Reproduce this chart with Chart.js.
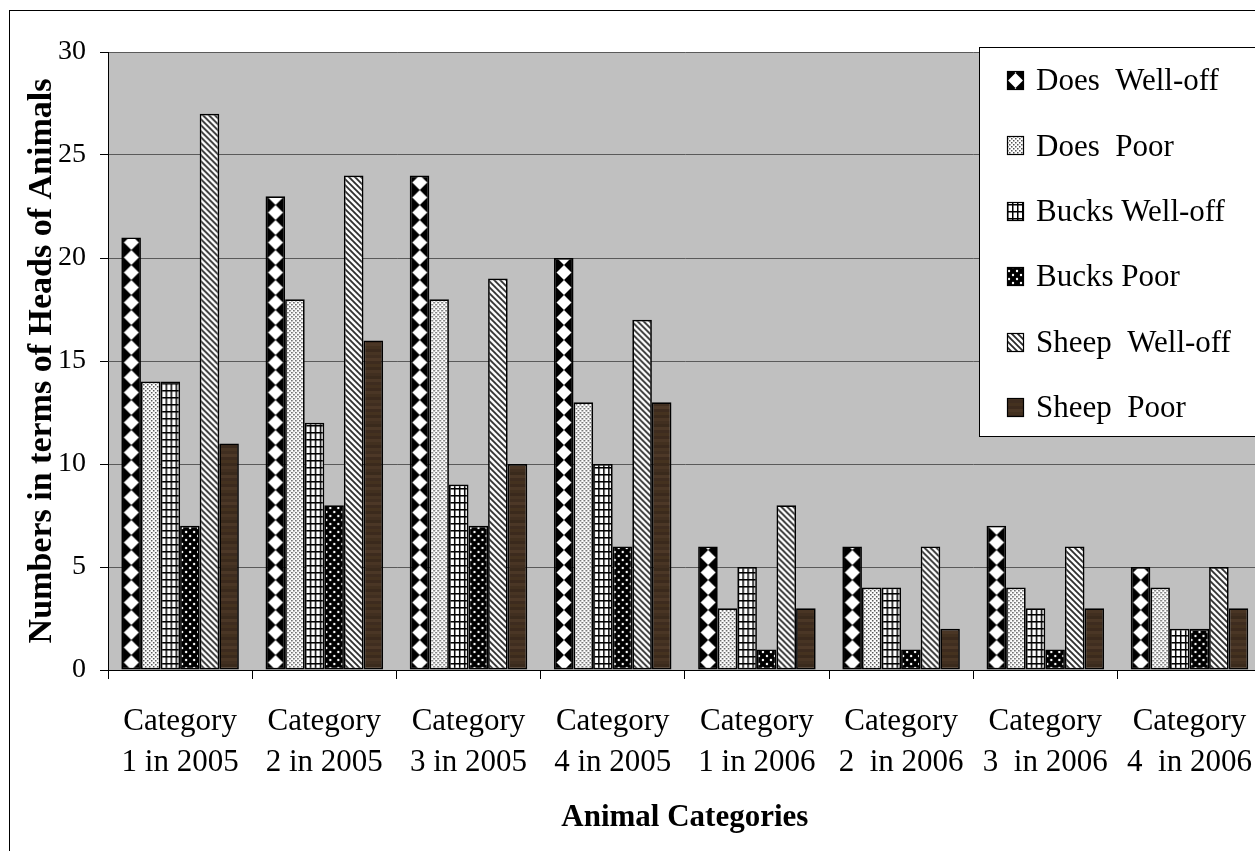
<!DOCTYPE html>
<html>
<head>
<meta charset="utf-8">
<script src="https://cdn.jsdelivr.net/npm/chart.js@4.4.1/dist/chart.umd.min.js"></script>
<style>
  html, body { margin: 0; padding: 0; background: #fff; overflow: hidden; width: 1255px; height: 851px; }
  #wrap { position: absolute; left: 0; top: 0; width: 1290px; height: 851px; }
</style>
</head>
<body>
<div id="wrap"><canvas id="chart" width="1290" height="851"></canvas></div>
<script>
// ---- data ----
const categories = [
  ['Category', '1 in 2005'], ['Category', '2 in 2005'], ['Category', '3 in 2005'], ['Category', '4 in 2005'],
  ['Category', '1 in 2006'], ['Category', '2  in 2006'], ['Category', '3  in 2006'], ['Category', '4  in 2006']
];
const seriesNames = ['Does  Well-off', 'Does  Poor', 'Bucks Well-off', 'Bucks Poor', 'Sheep  Well-off', 'Sheep  Poor'];
const doesWellOff  = [21, 23, 24, 20, 6, 6, 7, 5];
const doesPoor     = [14, 18, 18, 13, 3, 4, 4, 4];
const bucksWellOff = [14, 12, 9, 10, 5, 4, 3, 2];
const bucksPoor    = [7, 8, 7, 6, 1, 1, 1, 2];
const sheepWellOff = [27, 24, 19, 17, 8, 6, 6, 5];
const sheepPoor    = [11, 16, 10, 13, 3, 2, 3, 3];
const yTicks = [0, 5, 10, 15, 20, 25, 30];

const seriesValues = [doesWellOff, doesPoor, bucksWellOff, bucksPoor, sheepWellOff, sheepPoor];
const fills = ['diamond', 'stipple', 'grid', 'dots', 'diagonal', 'wood'];

// ---- fill textures ----
const CAT_PCT = 0.815;
const SERIF = "'Liberation Serif', 'Times New Roman', serif";
const woodShades = ['#3e2c1f', '#44311f', '#3c2a1d', '#4a3625', '#42301f', '#3a291c', '#473423', '#402e20',
                    '#4d3827', '#3d2b1e', '#45321f', '#3b2a1c', '#493524', '#412f20', '#3a2a1c', '#4b3726'];

const tileCache = {};
function makeTile(kind, w) {
  const key = kind + ':' + w;
  if (tileCache[key]) return tileCache[key];
  const c = document.createElement('canvas');
  const g = c.getContext('2d');
  if (kind === 'diamond') {
    c.width = w; c.height = 15;
    g.fillStyle = '#000'; g.fillRect(0, 0, w, 15);
    g.fillStyle = '#fff';
    g.beginPath();
    g.moveTo(w / 2, 0); g.lineTo(w / 2 + 7.5, 7.5); g.lineTo(w / 2, 15); g.lineTo(w / 2 - 7.5, 7.5);
    g.closePath(); g.fill();
  } else if (kind === 'stipple') {
    c.width = 4; c.height = 4;
    g.fillStyle = '#fff'; g.fillRect(0, 0, 4, 4);
    g.fillStyle = '#555';
    g.fillRect(0, 0, 1.5, 1.5); g.fillRect(2, 2, 1.5, 1.5);
  } else if (kind === 'grid') {
    c.width = 5; c.height = 7;
    g.fillStyle = '#fff'; g.fillRect(0, 0, 5, 7);
    g.fillStyle = '#000';
    g.fillRect(0, 0, 1.5, 7); g.fillRect(0, 0, 5, 1.5);
  } else if (kind === 'dots') {
    c.width = 8; c.height = 8;
    g.fillStyle = '#000'; g.fillRect(0, 0, 8, 8);
    g.fillStyle = '#fff';
    g.beginPath(); g.arc(2, 2, 1.2, 0, Math.PI * 2); g.fill();
    g.beginPath(); g.arc(6, 6, 1.2, 0, Math.PI * 2); g.fill();
  } else if (kind === 'diagonal') {
    c.width = 6; c.height = 6;
    g.fillStyle = '#fff'; g.fillRect(0, 0, 6, 6);
    g.strokeStyle = '#2a2a2a'; g.lineWidth = 1.8;
    g.beginPath();
    g.moveTo(-1, -1); g.lineTo(7, 7);
    g.moveTo(-7, -1); g.lineTo(1, 7);
    g.moveTo(5, -1); g.lineTo(13, 7);
    g.stroke();
  } else {
    c.width = 20; c.height = woodShades.length * 3;
    woodShades.forEach((col, i) => { g.fillStyle = col; g.fillRect(0, i * 3, 20, 3); });
  }
  tileCache[key] = c;
  return c;
}
function patternAt(ctx, kind, left, top, w) {
  const p = ctx.createPattern(makeTile(kind, w), 'repeat');
  p.setTransform(new DOMMatrix().translate(left, top));
  return p;
}

// texture anchored at each bar's own left edge
function barFill(kind) {
  return (c) => {
    const chart = c.chart;
    const xs = chart.scales && chart.scales.x;
    if (!xs || !xs.width || c.dataIndex === undefined) return '#888';
    const catW = xs.width / categories.length;
    const groupW = catW * CAT_PCT;
    const barW = groupW / seriesNames.length;
    const left = xs.getPixelForValue(c.dataIndex) - groupW / 2 + c.datasetIndex * barW;
    return patternAt(chart.ctx, kind, left, chart.chartArea.bottom, Math.round(barW));
  };
}

// page frame and grey plot area
const backdrop = {
  id: 'backdrop',
  beforeDraw(chart) {
    const { ctx, chartArea: a } = chart;
    ctx.save();
    ctx.fillStyle = '#fff';
    ctx.fillRect(0, 0, chart.width, chart.height);
    ctx.strokeStyle = '#000'; ctx.lineWidth = 1;
    ctx.strokeRect(9.5, 10.5, chart.width + 20, chart.height + 20);
    ctx.fillStyle = '#c0c0c0';
    ctx.fillRect(a.left, a.top, a.right - a.left, a.bottom - a.top);
    ctx.restore();
  }
};

// boxed key in the upper right
const keyBox = {
  id: 'keyBox',
  afterDraw(chart) {
    const ctx = chart.ctx;
    const bx = 979.5, by = 47.5, bw = 400, bh = 389;
    ctx.save();
    ctx.fillStyle = '#fff';
    ctx.fillRect(bx, by, bw, bh);
    ctx.strokeStyle = '#000'; ctx.lineWidth = 1;
    ctx.strokeRect(bx, by, bw, bh);
    ctx.font = '31px ' + SERIF;
    ctx.textBaseline = 'middle';
    ctx.textAlign = 'left';
    seriesNames.forEach((name, i) => {
      const cy = 81 + i * 65.4;
      const mx = 1007, my = Math.round(cy - 10), mw = 17, mh = 19;
      ctx.fillStyle = patternAt(ctx, fills[i], mx, my + 2, mw);
      ctx.fillRect(mx, my, mw, mh);
      ctx.strokeStyle = '#000'; ctx.lineWidth = 1.2;
      ctx.strokeRect(mx + 0.5, my + 0.5, mw - 1, mh - 1);
      ctx.fillStyle = '#000';
      ctx.fillText(name, 1036, cy + 1);
    });
    ctx.restore();
  }
};

const datasets = seriesNames.map((name, i) => ({
  label: name,
  data: seriesValues[i],
  backgroundColor: barFill(fills[i]),
  borderColor: '#000',
  borderWidth: 1.7,
  borderSkipped: false,
  categoryPercentage: CAT_PCT,
  barPercentage: 1
}));

new Chart(document.getElementById('chart'), {
  type: 'bar',
  data: { labels: categories, datasets },
  plugins: [backdrop, keyBox],
  options: {
    responsive: false,
    animation: false,
    events: [],
    layout: { padding: { left: 12, top: 52, right: 28.4, bottom: 0 } },
    plugins: { legend: { display: false }, tooltip: { enabled: false } },
    scales: {
      x: {
        grid: { offset: true, drawOnChartArea: false, drawTicks: true, tickLength: 9, color: '#000', lineWidth: 1 },
        border: { display: true, color: '#000', width: 1 },
        ticks: { color: '#000', padding: 23, maxRotation: 0, autoSkip: false,
                 font: { family: SERIF, size: 31, lineHeight: 1.3 } },
        title: { display: true, text: 'Animal Categories', color: '#000',
                 font: { family: SERIF, size: 31, weight: 'bold', lineHeight: 1.2 },
                 padding: { top: 0, bottom: 14 } },
        afterFit(s) { s.height = 181; }
      },
      y: {
        min: yTicks[0], max: yTicks[yTicks.length - 1],
        afterBuildTicks(s) { s.ticks = yTicks.map(v => ({ value: v })); },
        grid: { color: '#5a5a5a', tickColor: '#000', tickLength: 8, lineWidth: 1 },
        border: { display: true, color: '#000', width: 1 },
        ticks: { color: '#000', padding: 14, font: { family: SERIF, size: 28 } },
        title: { display: true, text: 'Numbers in terms of Heads of Animals', color: '#000',
                 font: { family: SERIF, size: 34, weight: 'bold', lineHeight: 1.2 },
                 padding: { top: 10, bottom: 0 } },
        afterFit(s) { s.width = 96; }
      }
    }
  }
});
</script>
</body>
</html>
